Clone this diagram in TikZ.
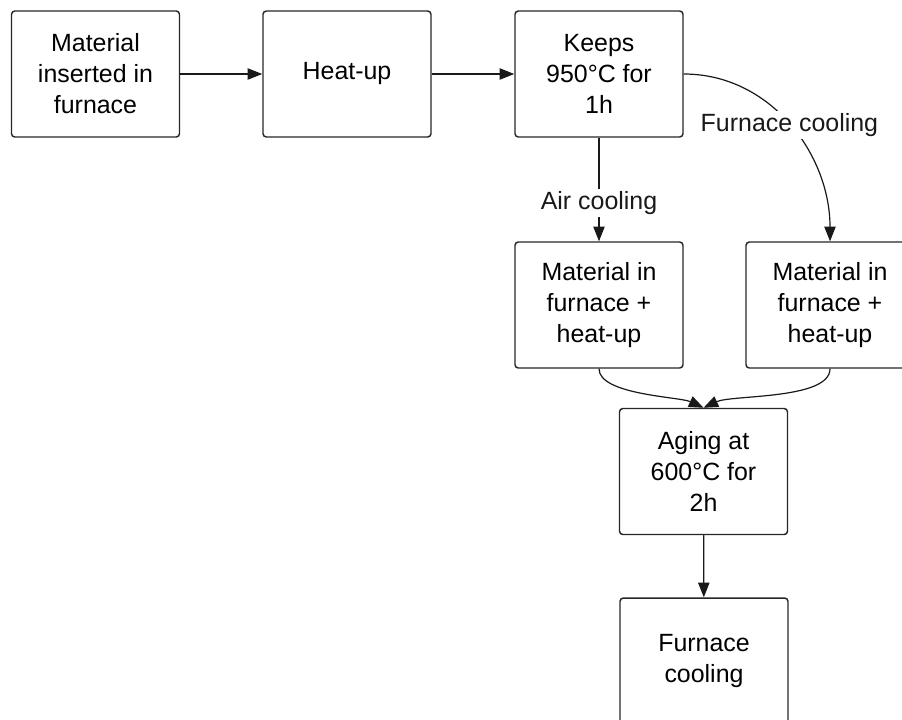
\documentclass[tikz,border=0pt]{standalone}
\usepackage{fontspec}
\setmainfont{Liberation Sans}
\usetikzlibrary{arrows.meta}

\begin{document}
\begin{tikzpicture}[x=0.75pt,y=-0.75pt,>={Triangle[length=11pt,width=8.5pt]},
    stage/.style={rectangle,rounded corners=2.5pt,draw=black!85,line width=1.1pt,
      minimum width=126pt,minimum height=94.5pt,inner sep=0pt,align=center,
      font=\fontsize{18.7}{23.25}\selectfont},
    flow/.style={->,line width=0.9pt,black!90},
    cond/.style={fill=white,inner sep=1.5pt,font=\fontsize{18.7}{23.25}\selectfont}]
  \clip (0,0) rectangle (902,719);
  \node[stage] at (95.5,74) (ins) {Material\\inserted in\\furnace};
  \node[stage] at (347,74) (heat) {Heat-up};
  \node[stage] at (599,74) (keep) {Keeps\\950°C for\\1h};
  \node[stage] at (599,305) (air) {Material in\\furnace +\\heat-up};
  \node[stage] at (830,305) (furn) {Material in\\furnace +\\heat-up};
  \node[stage] at (703.5,471.5) (aging) {Aging at\\600°C for\\2h};
  \node[stage] at (704,661) (cool) {Furnace\\cooling};
  \draw[flow] (ins) -- (heat);
  \draw[flow] (heat) -- (keep);
  \draw[flow] (keep) -- node[cond,pos=0.63] {Air cooling} (air);
  \draw[flow] (keep.east) to[out=0,in=90] node[cond,pos=0.5] {Furnace cooling} (furn.north);
  \draw[flow] (air.south) to[out=-90,in=155,looseness=0.6] (aging.north);
  \draw[flow] (furn.south) to[out=-90,in=25,looseness=0.6] (aging.north);
  \draw[flow] (aging) -- (cool);
\end{tikzpicture}
\end{document}
